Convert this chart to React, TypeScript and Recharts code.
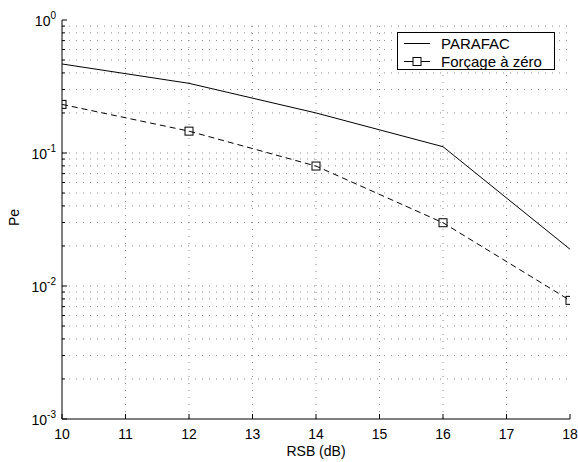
import React from 'react';
import { LineChart, Line, XAxis, YAxis, ReferenceLine } from 'recharts';

const snr = [10, 12, 14, 16, 18];
const parafac = [0.467, 0.334, 0.2, 0.1115, 0.0189];
const forcage = [0.232, 0.146, 0.0798, 0.0299, 0.0078];

const xTicks = [10, 11, 12, 13, 14, 15, 16, 17, 18];
const decades = [0.001, 0.01, 0.1, 1];
const decadeExp = ['-3', '-2', '-1', '0'];
const minorMult = [2, 3, 4, 5, 6, 7, 8, 9];

const minorTicks: number[] = [];
decades.slice(0, 3).forEach((d) => minorMult.forEach((m) => minorTicks.push(+(d * m).toPrecision(3))));
const yTicks = [...decades, ...minorTicks].sort((a, b) => a - b);

const data = snr.map((s, i) => ({ snr: s, parafac: parafac[i], forcage: forcage[i] }));

const FONT = '"Liberation Sans", Arial, Helvetica, sans-serif';
const GRID = '#8c8c8c';

const isDecade = (v: number) => decades.some((d) => Math.abs(d - v) < 1e-12);

const LeftTick = (props: any) => {
  const { x, y, payload } = props;
  const v = payload.value;
  const major = isDecade(v);
  const idx = decades.findIndex((d) => Math.abs(d - v) < 1e-12);
  return (
    <g>
      <line x1={x} x2={x + (major ? 5 : 3)} y1={y} y2={y} stroke="#000" strokeWidth={1} />
      {major && (
        <text x={x - 6} y={y + 6} textAnchor="end" fontSize={14} fontFamily={FONT} fill="#000">
          10
          <tspan dy={-7} fontSize={10}>{decadeExp[idx]}</tspan>
        </text>
      )}
    </g>
  );
};

const RightTick = (props: any) => {
  const { x, y, payload } = props;
  const major = isDecade(payload.value);
  return <line x1={x} x2={x - (major ? 5 : 3)} y1={y} y2={y} stroke="#000" strokeWidth={1} />;
};

const BottomTick = (props: any) => {
  const { x, y, payload } = props;
  return (
    <g>
      <line x1={x} x2={x} y1={y} y2={y - 5} stroke="#000" strokeWidth={1} />
      <text x={x} y={y + 20} textAnchor="middle" fontSize={14} fontFamily={FONT} fill="#000">
        {payload.value}
      </text>
    </g>
  );
};

const TopTick = (props: any) => {
  const { x, y } = props;
  return <line x1={x} x2={x} y1={y} y2={y + 5} stroke="#000" strokeWidth={1} />;
};

const SquareDot = (props: any) => {
  const { cx, cy, index } = props;
  if (cx == null || cy == null) return <g key={index} />;
  return <rect key={index} x={cx - 4} y={cy - 4} width={8} height={8} fill="none" stroke="#000" strokeWidth={1} />;
};

export default function App() {
  return (
    <div style={{ position: 'absolute', left: 0, top: 0, width: 578, height: 462, background: '#fff' }}>
      <LineChart width={578} height={462} data={data} margin={{ top: 20, right: 8, left: 0, bottom: 0 }}>
        {yTicks.filter((v) => v !== 1 && v !== 0.001).map((v) => (
          <ReferenceLine key={'h' + v} y={v} stroke={GRID} strokeDasharray="1 6" strokeWidth={1} />
        ))}
        {xTicks.slice(1, -1).map((v) => (
          <ReferenceLine key={'v' + v} x={v} stroke={GRID} strokeDasharray="1 6" strokeWidth={1} />
        ))}
        <XAxis
          dataKey="snr"
          type="number"
          domain={[10, 18]}
          ticks={xTicks}
          interval={0}
          allowDataOverflow
          height={43}
          tickSize={0}
          tickMargin={0}
          tickLine={false}
          axisLine={{ stroke: '#000' }}
          tick={<BottomTick />}
          label={{
            content: (p: any) => (
              <text x={p.viewBox.x + p.viewBox.width / 2} y={p.viewBox.y + 37} textAnchor="middle" fontSize={14} fontFamily={FONT} fill="#000">
                RSB (dB)
              </text>
            ),
          }}
        />
        <XAxis
          xAxisId="top"
          orientation="top"
          type="number"
          domain={[10, 18]}
          ticks={xTicks}
          interval={0}
          allowDataOverflow
          height={0}
          tickSize={0}
          tickMargin={0}
          tickLine={false}
          axisLine={{ stroke: '#000' }}
          tick={<TopTick />}
        />
        <YAxis
          scale="log"
          type="number"
          domain={[0.001, 1]}
          ticks={yTicks}
          interval={0}
          allowDataOverflow
          width={62}
          tickSize={0}
          tickMargin={0}
          tickLine={false}
          axisLine={{ stroke: '#000' }}
          tick={<LeftTick />}
          label={{
            content: (p: any) => {
              const cx = 19;
              const cy = p.viewBox.y + p.viewBox.height / 2 - 2;
              return (
                <text x={cx} y={cy} transform={`rotate(-90 ${cx} ${cy})`} textAnchor="middle" fontSize={14} fontFamily={FONT} fill="#000">
                  Pe
                </text>
              );
            },
          }}
        />
        <YAxis
          yAxisId="right"
          orientation="right"
          scale="log"
          type="number"
          domain={[0.001, 1]}
          ticks={yTicks}
          interval={0}
          allowDataOverflow
          width={0}
          tickSize={0}
          tickMargin={0}
          tickLine={false}
          axisLine={{ stroke: '#000' }}
          tick={<RightTick />}
        />
        <Line dataKey="parafac" stroke="#000" strokeWidth={1} dot={false} isAnimationActive={false} />
        <Line dataKey="forcage" stroke="#000" strokeWidth={1} strokeDasharray="6 4" dot={<SquareDot />} isAnimationActive={false} />
      </LineChart>
      <svg style={{ position: 'absolute', left: 397, top: 32 }} width={158} height={38}>
        <rect x={0.5} y={0.5} width={157} height={37} fill="#fff" stroke="#000" strokeWidth={1} />
        <line x1={7} x2={33} y1={11.5} y2={11.5} stroke="#000" strokeWidth={1} />
        <text x={44} y={17} fontSize={15} fontFamily={FONT} fill="#000">PARAFAC</text>
        <line x1={7} x2={33} y1={29.5} y2={29.5} stroke="#000" strokeWidth={1} />
        <rect x={16} y={25.5} width={8} height={8} fill="#fff" stroke="#000" strokeWidth={1} />
        <text x={44} y={35} fontSize={15} fontFamily={FONT} fill="#000">Forçage à zéro</text>
      </svg>
    </div>
  );
}
